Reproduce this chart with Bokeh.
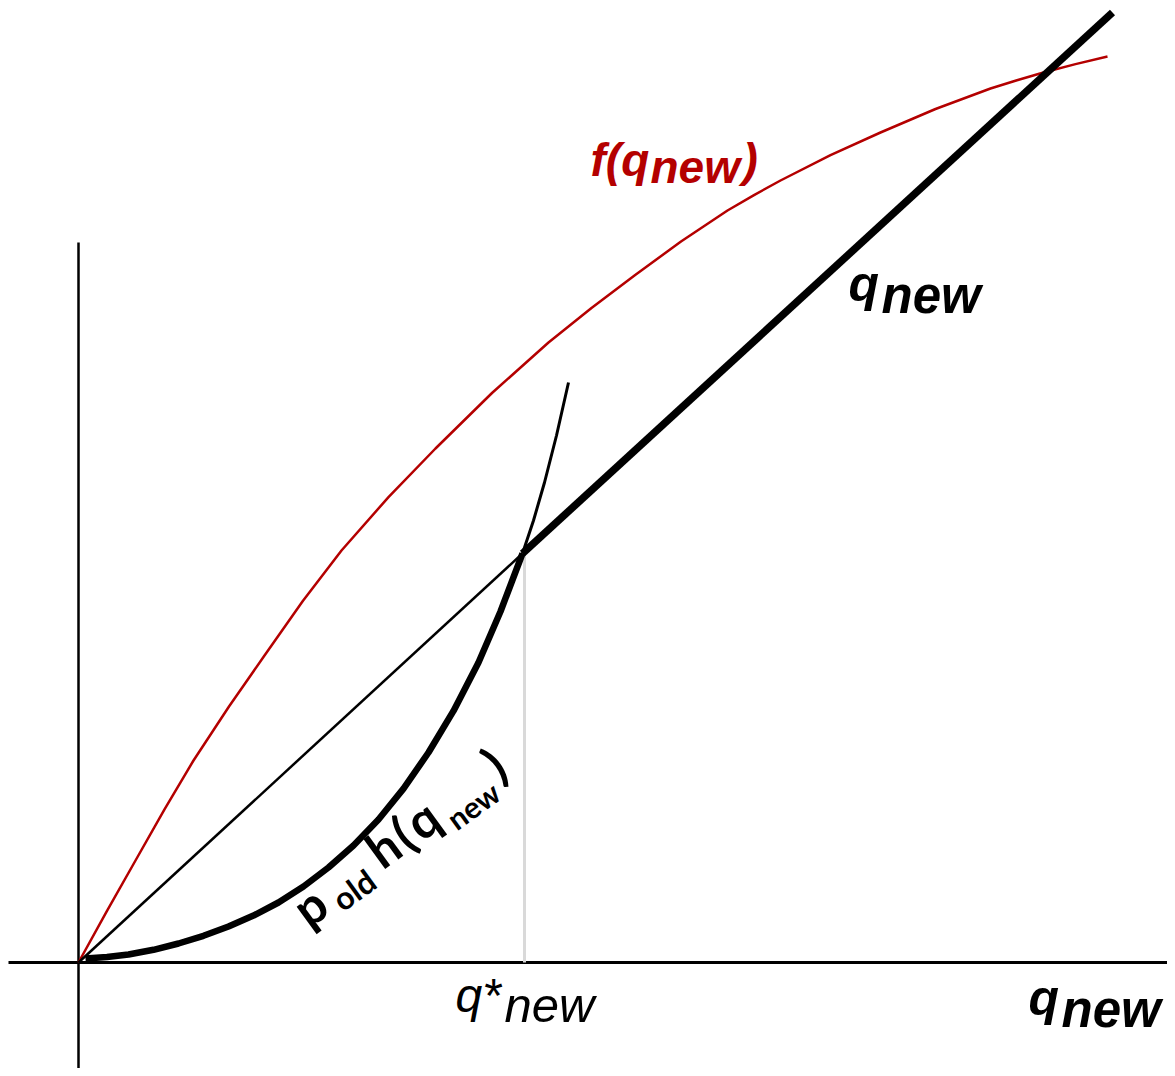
import math
from bokeh.plotting import figure
from bokeh.models import Range1d, Label
from bokeh.embed import file_html
from bokeh.resources import INLINE

# ---- data (1 unit = 100 screen px, origin at the axes crossing) ----
f_x = [0.0, 0.285, 0.57, 0.86, 1.15, 1.505, 1.86, 2.245, 2.63, 3.10, 3.57, 4.135, 4.70,
       5.13, 5.56, 6.025, 6.49, 6.755, 7.02, 7.52, 8.02, 8.57, 9.12, 9.385, 9.65, 9.97, 10.29]
f_y = [0.0, 0.516, 1.02, 1.532, 2.02, 2.56, 3.07, 3.617, 4.12, 4.654, 5.14, 5.695, 6.20,
       6.545, 6.87, 7.21, 7.52, 7.674, 7.82, 8.073, 8.30, 8.535, 8.74, 8.823, 8.90, 8.984, 9.06]

h_x = [0.07, 0.285, 0.5, 0.75, 1.0, 1.25, 1.5, 1.75, 2.0, 2.25, 2.5, 2.75, 3.0, 3.25,
       3.5, 3.75, 4.0, 4.22, 4.44]
h_y = [0.04, 0.055, 0.08, 0.127, 0.19, 0.267, 0.36, 0.469, 0.60, 0.76, 0.95, 1.17, 1.43,
       1.739, 2.10, 2.516, 3.0, 3.51, 4.09]
h_ext_x = [4.44, 4.55, 4.66, 4.78, 4.90]
h_ext_y = [4.09, 4.42, 4.80, 5.27, 5.80]

diag_x = [0.0, 4.44, 10.34]
diag_y = [0.0, 4.09, 9.50]

q_star = 4.46
yaxis_top = 7.20

RED = "#b40000"

W, H = 1167, 1068
p = figure(width=W, height=H, output_backend="svg", toolbar_location=None,
           x_range=Range1d(-0.78, -0.78 + W / 100.0),
           y_range=Range1d(9.62 - H / 100.0, 9.62),
           min_border=0, x_axis_type=None, y_axis_type=None)
p.grid.visible = False
p.outline_line_color = None
p.background_fill_color = "white"

# axes
p.line([-0.70, 11.5], [0, 0], line_color="black", line_width=3)
p.line([0, 0], [-1.2, yaxis_top], line_color="black", line_width=2.5)

# q* guide
p.line([q_star, q_star], [0, diag_y[1]], line_color="#d9d9d9", line_width=3)

# curves
p.line(f_x, f_y, line_color=RED, line_width=2.5)
p.line(diag_x[:2], diag_y[:2], line_color="black", line_width=2.5)
p.line(diag_x[1:], diag_y[1:], line_color="black", line_width=7.5)
p.line(h_ext_x, h_ext_y, line_color="black", line_width=3)
p.line(h_x, h_y, line_color="black", line_width=6.5)


def X(px):
    return (px - 78) / 100.0


def Y(py):
    return (962 - py) / 100.0


FIX = 0.39  # baseline correction (fraction of font size)


def lab(px, py, text, size, style="bold italic", color="black", font="Liberation Sans", angle=0.0):
    a = math.radians(angle)
    d = FIX * size
    px2 = px - d * math.sin(a)
    py2 = py - d * math.cos(a)
    p.add_layout(Label(x=X(px2), y=Y(py2), text=text, text_font=font,
                       text_font_size=f"{size}px", text_font_style=style,
                       text_color=color, text_baseline="alphabetic",
                       text_align="left", angle=angle, angle_units="deg"))


# f(q_new)
lab(590, 177, "f(q", 46, color=RED)
lab(650, 184, "new", 46, color=RED)
lab(742, 177, ")", 46, color=RED)

# q_new on the line
lab(848, 303, "q", 50)
lab(881, 315, "new", 51)

# q_new axis label
lab(1028, 1017, "q", 50)
lab(1061, 1029, "new", 51)

# q*new
lab(455, 1014, "q*", 48, style="italic")
lab(504, 1024, "new", 49, style="italic")

# rotated p_old h(q_new)
ang = 36.0
ca, sa = math.cos(math.radians(ang)), math.sin(math.radians(ang))
sx, sy = 303, 926


def rot(s, perp, text, size):
    px = sx + s * ca + perp * sa
    py = sy - s * sa + perp * ca
    lab(px, py, text, size, style="bold", font="Lato", angle=ang)


rot(3, 6, "p", 50)
rot(40, 12, "old", 32)
rot(97, 2, "h", 50)
rot(128, 2, "(", 50)
rot(145, 2, "q", 50)
rot(180, 13, "new", 30)
rot(243, 0, ")", 50)

open("out.html", "w").write(file_html(p, INLINE))
